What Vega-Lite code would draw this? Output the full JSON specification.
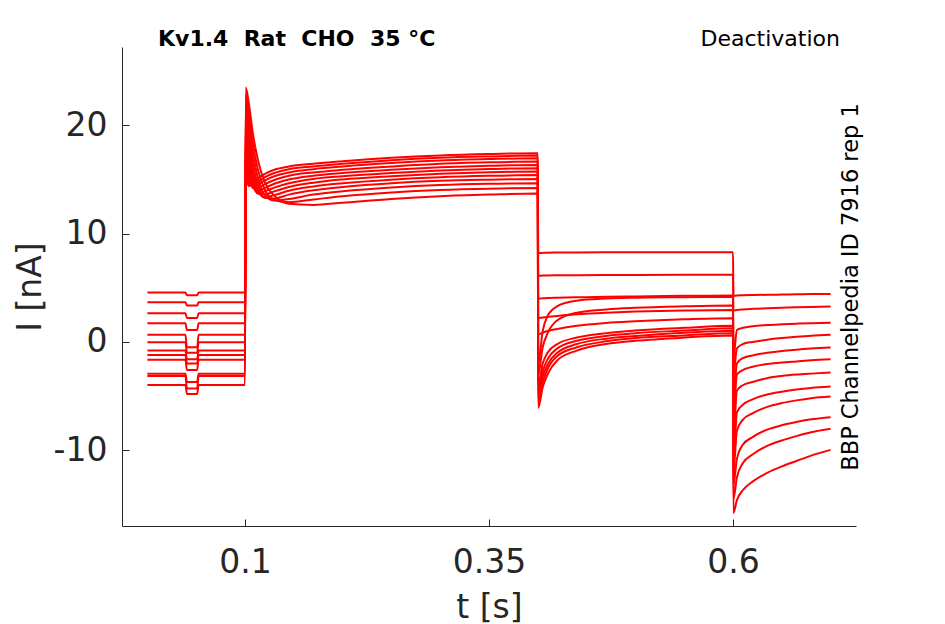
{
  "$schema": "https://vega.github.io/schema/vega-lite/v6.json",
  "width": 734,
  "height": 479,
  "autosize": {"type": "none"},
  "padding": {"left": 122, "top": 47, "right": 89, "bottom": 98},
  "background": "white",
  "config": {"view": {"stroke": null}, "font": "DejaVu Sans"},
  "title": {
    "text": "Kv1.4\u00a0\u00a0Rat\u00a0\u00a0CHO\u00a0\u00a035 °C",
    "anchor": "start", "frame": "group", "dx": 36, "offset": -40,
    "baseline": "alphabetic", "fontSize": 22, "fontWeight": "bold", "color": "black"
  },
  "data": {"values": [
    {"k":1,"t":0,"i":4.55},{"k":1,"t":0.039,"i":4.55},{"k":1,"t":0.0405,"i":4.3},{"k":1,"t":0.051,"i":4.3},{"k":1,"t":0.0525,"i":4.55},{"k":1,"t":0.1,"i":4.55},
    {"k":1,"t":0.1008,"i":15.0},{"k":1,"t":0.104,"i":14.4},{"k":1,"t":0.108,"i":14.7},{"k":1,"t":0.113,"i":15.1},{"k":1,"t":0.12,"i":15.5},{"k":1,"t":0.13,"i":15.9},{"k":1,"t":0.145,"i":16.2},{"k":1,"t":0.17,"i":16.45},{"k":1,"t":0.2,"i":16.68},{"k":1,"t":0.25,"i":17.0},{"k":1,"t":0.3,"i":17.22},{"k":1,"t":0.35,"i":17.35},{"k":1,"t":0.4,"i":17.42},
    {"k":1,"t":0.4004,"i":8.2},{"k":1,"t":0.405,"i":8.22},{"k":1,"t":0.41,"i":8.24},{"k":1,"t":0.42,"i":8.25},{"k":1,"t":0.44,"i":8.26},{"k":1,"t":0.47,"i":8.27},{"k":1,"t":0.5,"i":8.27},{"k":1,"t":0.55,"i":8.28},{"k":1,"t":0.6,"i":8.28},
    {"k":1,"t":0.6004,"i":4.25},{"k":1,"t":0.604,"i":4.28},{"k":1,"t":0.61,"i":4.3},{"k":1,"t":0.62,"i":4.32},{"k":1,"t":0.635,"i":4.35},{"k":1,"t":0.65,"i":4.37},{"k":1,"t":0.665,"i":4.4},{"k":1,"t":0.68,"i":4.42},{"k":1,"t":0.7,"i":4.43},

    {"k":2,"t":0,"i":3.67},{"k":2,"t":0.039,"i":3.67},{"k":2,"t":0.0405,"i":3.35},{"k":2,"t":0.051,"i":3.35},{"k":2,"t":0.0525,"i":3.67},{"k":2,"t":0.1,"i":3.67},
    {"k":2,"t":0.1008,"i":15.8},{"k":2,"t":0.104,"i":14.6},{"k":2,"t":0.108,"i":14.5},{"k":2,"t":0.113,"i":14.8},{"k":2,"t":0.12,"i":15.2},{"k":2,"t":0.13,"i":15.6},{"k":2,"t":0.145,"i":15.95},{"k":2,"t":0.17,"i":16.2},{"k":2,"t":0.2,"i":16.45},{"k":2,"t":0.25,"i":16.78},{"k":2,"t":0.3,"i":17.0},{"k":2,"t":0.35,"i":17.12},{"k":2,"t":0.4,"i":17.2},
    {"k":2,"t":0.4004,"i":6.1},{"k":2,"t":0.405,"i":6.12},{"k":2,"t":0.41,"i":6.14},{"k":2,"t":0.42,"i":6.15},{"k":2,"t":0.44,"i":6.16},{"k":2,"t":0.47,"i":6.17},{"k":2,"t":0.5,"i":6.18},{"k":2,"t":0.55,"i":6.19},{"k":2,"t":0.6,"i":6.2},
    {"k":2,"t":0.6004,"i":2.9},{"k":2,"t":0.604,"i":2.95},{"k":2,"t":0.61,"i":3.0},{"k":2,"t":0.62,"i":3.05},{"k":2,"t":0.635,"i":3.1},{"k":2,"t":0.65,"i":3.15},{"k":2,"t":0.665,"i":3.2},{"k":2,"t":0.68,"i":3.23},{"k":2,"t":0.7,"i":3.26},

    {"k":3,"t":0,"i":2.65},{"k":3,"t":0.039,"i":2.65},{"k":3,"t":0.0405,"i":2.2},{"k":3,"t":0.051,"i":2.2},{"k":3,"t":0.0525,"i":2.65},{"k":3,"t":0.1,"i":2.65},
    {"k":3,"t":0.1008,"i":16.6},{"k":3,"t":0.104,"i":15.0},{"k":3,"t":0.108,"i":14.3},{"k":3,"t":0.113,"i":14.5},{"k":3,"t":0.12,"i":14.9},{"k":3,"t":0.13,"i":15.3},{"k":3,"t":0.145,"i":15.65},{"k":3,"t":0.17,"i":15.95},{"k":3,"t":0.2,"i":16.2},{"k":3,"t":0.25,"i":16.52},{"k":3,"t":0.3,"i":16.75},{"k":3,"t":0.35,"i":16.88},{"k":3,"t":0.4,"i":16.96},
    {"k":3,"t":0.4004,"i":4.0},{"k":3,"t":0.405,"i":4.02},{"k":3,"t":0.41,"i":4.05},{"k":3,"t":0.42,"i":4.08},{"k":3,"t":0.44,"i":4.12},{"k":3,"t":0.47,"i":4.16},{"k":3,"t":0.5,"i":4.2},{"k":3,"t":0.55,"i":4.25},{"k":3,"t":0.6,"i":4.28},
    {"k":3,"t":0.6004,"i":-1.5},{"k":3,"t":0.604,"i":1.1},{"k":3,"t":0.61,"i":1.3},{"k":3,"t":0.62,"i":1.45},{"k":3,"t":0.635,"i":1.55},{"k":3,"t":0.65,"i":1.62},{"k":3,"t":0.665,"i":1.68},{"k":3,"t":0.68,"i":1.73},{"k":3,"t":0.7,"i":1.78},

    {"k":4,"t":0,"i":1.73},{"k":4,"t":0.039,"i":1.73},{"k":4,"t":0.0405,"i":1.1},{"k":4,"t":0.051,"i":1.1},{"k":4,"t":0.0525,"i":1.73},{"k":4,"t":0.1,"i":1.73},
    {"k":4,"t":0.1008,"i":17.4},{"k":4,"t":0.104,"i":15.6},{"k":4,"t":0.108,"i":14.2},{"k":4,"t":0.113,"i":14.2},{"k":4,"t":0.12,"i":14.55},{"k":4,"t":0.13,"i":14.95},{"k":4,"t":0.145,"i":15.35},{"k":4,"t":0.17,"i":15.65},{"k":4,"t":0.2,"i":15.9},{"k":4,"t":0.25,"i":16.2},{"k":4,"t":0.3,"i":16.45},{"k":4,"t":0.35,"i":16.58},{"k":4,"t":0.4,"i":16.65},
    {"k":4,"t":0.4004,"i":-2.0},{"k":4,"t":0.405,"i":1.0},{"k":4,"t":0.41,"i":2.4},{"k":4,"t":0.42,"i":3.3},{"k":4,"t":0.44,"i":3.8},{"k":4,"t":0.47,"i":4.0},{"k":4,"t":0.5,"i":4.08},{"k":4,"t":0.55,"i":4.13},{"k":4,"t":0.6,"i":4.17},
    {"k":4,"t":0.6004,"i":-3.0},{"k":4,"t":0.604,"i":-0.6},{"k":4,"t":0.61,"i":-0.2},{"k":4,"t":0.62,"i":0.0},{"k":4,"t":0.635,"i":0.2},{"k":4,"t":0.65,"i":0.35},{"k":4,"t":0.665,"i":0.47},{"k":4,"t":0.68,"i":0.57},{"k":4,"t":0.7,"i":0.65},

    {"k":5,"t":0,"i":0.65},{"k":5,"t":0.039,"i":0.65},{"k":5,"t":0.0405,"i":-0.5},{"k":5,"t":0.051,"i":-0.5},{"k":5,"t":0.0525,"i":0.65},{"k":5,"t":0.1,"i":0.65},
    {"k":5,"t":0.1008,"i":18.2},{"k":5,"t":0.104,"i":16.2},{"k":5,"t":0.108,"i":14.3},{"k":5,"t":0.113,"i":13.95},{"k":5,"t":0.12,"i":14.2},{"k":5,"t":0.13,"i":14.6},{"k":5,"t":0.145,"i":15.0},{"k":5,"t":0.17,"i":15.35},{"k":5,"t":0.2,"i":15.6},{"k":5,"t":0.25,"i":15.9},{"k":5,"t":0.3,"i":16.12},{"k":5,"t":0.35,"i":16.26},{"k":5,"t":0.4,"i":16.34},
    {"k":5,"t":0.4004,"i":-3.0},{"k":5,"t":0.405,"i":-0.5},{"k":5,"t":0.41,"i":0.8},{"k":5,"t":0.42,"i":2.0},{"k":5,"t":0.44,"i":2.7},{"k":5,"t":0.47,"i":3.0},{"k":5,"t":0.5,"i":3.15},{"k":5,"t":0.55,"i":3.28},{"k":5,"t":0.6,"i":3.35},
    {"k":5,"t":0.6004,"i":-5.0},{"k":5,"t":0.604,"i":-2.0},{"k":5,"t":0.61,"i":-1.5},{"k":5,"t":0.62,"i":-1.25},{"k":5,"t":0.635,"i":-1.0},{"k":5,"t":0.65,"i":-0.85},{"k":5,"t":0.665,"i":-0.72},{"k":5,"t":0.68,"i":-0.62},{"k":5,"t":0.7,"i":-0.52},

    {"k":6,"t":0,"i":-0.03},{"k":6,"t":0.039,"i":-0.03},{"k":6,"t":0.0405,"i":-1.0},{"k":6,"t":0.051,"i":-1.0},{"k":6,"t":0.0525,"i":-0.03},{"k":6,"t":0.1,"i":-0.03},
    {"k":6,"t":0.1008,"i":19.0},{"k":6,"t":0.104,"i":16.9},{"k":6,"t":0.108,"i":14.6},{"k":6,"t":0.113,"i":13.75},{"k":6,"t":0.12,"i":13.9},{"k":6,"t":0.13,"i":14.25},{"k":6,"t":0.145,"i":14.65},{"k":6,"t":0.17,"i":15.05},{"k":6,"t":0.2,"i":15.3},{"k":6,"t":0.25,"i":15.6},{"k":6,"t":0.3,"i":15.82},{"k":6,"t":0.35,"i":15.96},{"k":6,"t":0.4,"i":16.04},
    {"k":6,"t":0.4004,"i":2.2},{"k":6,"t":0.405,"i":2.25},{"k":6,"t":0.41,"i":2.3},{"k":6,"t":0.42,"i":2.4},{"k":6,"t":0.44,"i":2.55},{"k":6,"t":0.47,"i":2.7},{"k":6,"t":0.5,"i":2.8},{"k":6,"t":0.55,"i":2.9},{"k":6,"t":0.6,"i":2.95},
    {"k":6,"t":0.6004,"i":-7.0},{"k":6,"t":0.604,"i":-3.0},{"k":6,"t":0.61,"i":-2.6},{"k":6,"t":0.62,"i":-2.3},{"k":6,"t":0.635,"i":-2.05},{"k":6,"t":0.65,"i":-1.9},{"k":6,"t":0.665,"i":-1.8},{"k":6,"t":0.68,"i":-1.7},{"k":6,"t":0.7,"i":-1.6},

    {"k":7,"t":0,"i":-0.8},{"k":7,"t":0.039,"i":-0.8},{"k":7,"t":0.0405,"i":-1.6},{"k":7,"t":0.051,"i":-1.6},{"k":7,"t":0.0525,"i":-0.8},{"k":7,"t":0.1,"i":-0.8},
    {"k":7,"t":0.1008,"i":19.8},{"k":7,"t":0.104,"i":17.7},{"k":7,"t":0.108,"i":15.1},{"k":7,"t":0.113,"i":13.7},{"k":7,"t":0.12,"i":13.6},{"k":7,"t":0.13,"i":13.9},{"k":7,"t":0.145,"i":14.3},{"k":7,"t":0.17,"i":14.7},{"k":7,"t":0.2,"i":15.0},{"k":7,"t":0.25,"i":15.3},{"k":7,"t":0.3,"i":15.52},{"k":7,"t":0.35,"i":15.66},{"k":7,"t":0.4,"i":15.73},
    {"k":7,"t":0.4004,"i":0.7},{"k":7,"t":0.405,"i":0.85},{"k":7,"t":0.41,"i":1.0},{"k":7,"t":0.42,"i":1.2},{"k":7,"t":0.44,"i":1.5},{"k":7,"t":0.47,"i":1.75},{"k":7,"t":0.5,"i":1.9},{"k":7,"t":0.55,"i":2.08},{"k":7,"t":0.6,"i":2.19},
    {"k":7,"t":0.6004,"i":-9.0},{"k":7,"t":0.604,"i":-4.5},{"k":7,"t":0.61,"i":-4.0},{"k":7,"t":0.62,"i":-3.7},{"k":7,"t":0.635,"i":-3.35},{"k":7,"t":0.65,"i":-3.15},{"k":7,"t":0.665,"i":-3.02},{"k":7,"t":0.68,"i":-2.93},{"k":7,"t":0.7,"i":-2.83},

    {"k":8,"t":0,"i":-1.2},{"k":8,"t":0.039,"i":-1.2},{"k":8,"t":0.0405,"i":-2.0},{"k":8,"t":0.051,"i":-2.0},{"k":8,"t":0.0525,"i":-1.2},{"k":8,"t":0.1,"i":-1.2},
    {"k":8,"t":0.1008,"i":20.5},{"k":8,"t":0.104,"i":18.5},{"k":8,"t":0.108,"i":15.8},{"k":8,"t":0.113,"i":14.0},{"k":8,"t":0.12,"i":13.35},{"k":8,"t":0.13,"i":13.55},{"k":8,"t":0.145,"i":13.95},{"k":8,"t":0.17,"i":14.35},{"k":8,"t":0.2,"i":14.65},{"k":8,"t":0.25,"i":14.98},{"k":8,"t":0.3,"i":15.2},{"k":8,"t":0.35,"i":15.33},{"k":8,"t":0.4,"i":15.4},
    {"k":8,"t":0.4004,"i":-4.0},{"k":8,"t":0.405,"i":-2.0},{"k":8,"t":0.41,"i":-1.0},{"k":8,"t":0.42,"i":-0.2},{"k":8,"t":0.44,"i":0.4},{"k":8,"t":0.47,"i":0.8},{"k":8,"t":0.5,"i":1.05},{"k":8,"t":0.55,"i":1.3},{"k":8,"t":0.6,"i":1.48},
    {"k":8,"t":0.6004,"i":-11.0},{"k":8,"t":0.604,"i":-6.5},{"k":8,"t":0.61,"i":-5.8},{"k":8,"t":0.62,"i":-5.3},{"k":8,"t":0.635,"i":-4.85},{"k":8,"t":0.65,"i":-4.6},{"k":8,"t":0.665,"i":-4.4},{"k":8,"t":0.68,"i":-4.25},{"k":8,"t":0.7,"i":-4.12},

    {"k":9,"t":0,"i":-1.66},{"k":9,"t":0.039,"i":-1.66},{"k":9,"t":0.0405,"i":-2.6},{"k":9,"t":0.051,"i":-2.6},{"k":9,"t":0.0525,"i":-1.66},{"k":9,"t":0.1,"i":-1.66},
    {"k":9,"t":0.1008,"i":21.2},{"k":9,"t":0.104,"i":19.3},{"k":9,"t":0.108,"i":16.6},{"k":9,"t":0.113,"i":14.5},{"k":9,"t":0.12,"i":13.3},{"k":9,"t":0.13,"i":13.25},{"k":9,"t":0.145,"i":13.6},{"k":9,"t":0.17,"i":14.0},{"k":9,"t":0.2,"i":14.3},{"k":9,"t":0.25,"i":14.65},{"k":9,"t":0.3,"i":14.87},{"k":9,"t":0.35,"i":14.98},{"k":9,"t":0.4,"i":15.05},
    {"k":9,"t":0.4004,"i":-4.5},{"k":9,"t":0.405,"i":-2.7},{"k":9,"t":0.41,"i":-1.6},{"k":9,"t":0.42,"i":-0.6},{"k":9,"t":0.44,"i":0.1},{"k":9,"t":0.47,"i":0.55},{"k":9,"t":0.5,"i":0.8},{"k":9,"t":0.55,"i":1.05},{"k":9,"t":0.6,"i":1.26},
    {"k":9,"t":0.6004,"i":-12.0},{"k":9,"t":0.604,"i":-8.2},{"k":9,"t":0.61,"i":-7.2},{"k":9,"t":0.62,"i":-6.6},{"k":9,"t":0.635,"i":-6.0},{"k":9,"t":0.65,"i":-5.65},{"k":9,"t":0.665,"i":-5.4},{"k":9,"t":0.68,"i":-5.2},{"k":9,"t":0.7,"i":-5.05},

    {"k":10,"t":0,"i":-2.95},{"k":10,"t":0.039,"i":-2.95},{"k":10,"t":0.0405,"i":-3.7},{"k":10,"t":0.051,"i":-3.7},{"k":10,"t":0.0525,"i":-2.95},{"k":10,"t":0.1,"i":-2.95},
    {"k":10,"t":0.1008,"i":22.0},{"k":10,"t":0.104,"i":20.2},{"k":10,"t":0.108,"i":17.5},{"k":10,"t":0.113,"i":15.2},{"k":10,"t":0.12,"i":13.6},{"k":10,"t":0.13,"i":13.05},{"k":10,"t":0.145,"i":13.2},{"k":10,"t":0.17,"i":13.6},{"k":10,"t":0.2,"i":13.9},{"k":10,"t":0.25,"i":14.25},{"k":10,"t":0.3,"i":14.48},{"k":10,"t":0.35,"i":14.6},{"k":10,"t":0.4,"i":14.65},
    {"k":10,"t":0.4004,"i":-5.0},{"k":10,"t":0.405,"i":-3.2},{"k":10,"t":0.41,"i":-2.1},{"k":10,"t":0.42,"i":-1.0},{"k":10,"t":0.44,"i":-0.2},{"k":10,"t":0.47,"i":0.3},{"k":10,"t":0.5,"i":0.55},{"k":10,"t":0.55,"i":0.85},{"k":10,"t":0.6,"i":1.04},
    {"k":10,"t":0.6004,"i":-13.2},{"k":10,"t":0.604,"i":-10.8},{"k":10,"t":0.61,"i":-9.5},{"k":10,"t":0.62,"i":-8.8},{"k":10,"t":0.635,"i":-8.1},{"k":10,"t":0.65,"i":-7.7},{"k":10,"t":0.665,"i":-7.4},{"k":10,"t":0.68,"i":-7.15},{"k":10,"t":0.7,"i":-6.95},

    {"k":11,"t":0,"i":-3.14},{"k":11,"t":0.039,"i":-3.14},{"k":11,"t":0.0405,"i":-4.3},{"k":11,"t":0.051,"i":-4.3},{"k":11,"t":0.0525,"i":-3.14},{"k":11,"t":0.1,"i":-3.14},
    {"k":11,"t":0.1008,"i":22.8},{"k":11,"t":0.104,"i":21.1},{"k":11,"t":0.108,"i":18.4},{"k":11,"t":0.113,"i":16.0},{"k":11,"t":0.12,"i":14.1},{"k":11,"t":0.13,"i":13.1},{"k":11,"t":0.145,"i":12.9},{"k":11,"t":0.17,"i":13.15},{"k":11,"t":0.2,"i":13.45},{"k":11,"t":0.25,"i":13.8},{"k":11,"t":0.3,"i":14.03},{"k":11,"t":0.35,"i":14.15},{"k":11,"t":0.4,"i":14.2},
    {"k":11,"t":0.4004,"i":-5.5},{"k":11,"t":0.405,"i":-3.7},{"k":11,"t":0.41,"i":-2.5},{"k":11,"t":0.42,"i":-1.3},{"k":11,"t":0.44,"i":-0.5},{"k":11,"t":0.47,"i":0.05},{"k":11,"t":0.5,"i":0.35},{"k":11,"t":0.55,"i":0.6},{"k":11,"t":0.6,"i":0.8},
    {"k":11,"t":0.6004,"i":-14.5},{"k":11,"t":0.604,"i":-12.5},{"k":11,"t":0.61,"i":-11.2},{"k":11,"t":0.62,"i":-10.4},{"k":11,"t":0.635,"i":-9.6},{"k":11,"t":0.65,"i":-9.1},{"k":11,"t":0.665,"i":-8.7},{"k":11,"t":0.68,"i":-8.35},{"k":11,"t":0.7,"i":-8.03},

    {"k":12,"t":0,"i":-3.97},{"k":12,"t":0.039,"i":-3.97},{"k":12,"t":0.0405,"i":-4.8},{"k":12,"t":0.051,"i":-4.8},{"k":12,"t":0.0525,"i":-3.97},{"k":12,"t":0.1,"i":-3.97},
    {"k":12,"t":0.1008,"i":23.5},{"k":12,"t":0.104,"i":22.0},{"k":12,"t":0.108,"i":19.3},{"k":12,"t":0.113,"i":16.9},{"k":12,"t":0.12,"i":14.8},{"k":12,"t":0.13,"i":13.5},{"k":12,"t":0.145,"i":12.75},{"k":12,"t":0.17,"i":12.65},{"k":12,"t":0.2,"i":12.85},{"k":12,"t":0.25,"i":13.2},{"k":12,"t":0.3,"i":13.45},{"k":12,"t":0.35,"i":13.6},{"k":12,"t":0.4,"i":13.7},
    {"k":12,"t":0.4004,"i":-6.1},{"k":12,"t":0.405,"i":-4.2},{"k":12,"t":0.41,"i":-3.0},{"k":12,"t":0.42,"i":-1.7},{"k":12,"t":0.44,"i":-0.8},{"k":12,"t":0.47,"i":-0.2},{"k":12,"t":0.5,"i":0.1},{"k":12,"t":0.55,"i":0.4},{"k":12,"t":0.6,"i":0.58},
    {"k":12,"t":0.6004,"i":-15.8},{"k":12,"t":0.604,"i":-14.6},{"k":12,"t":0.61,"i":-13.7},{"k":12,"t":0.62,"i":-12.9},{"k":12,"t":0.635,"i":-12.1},{"k":12,"t":0.65,"i":-11.5},{"k":12,"t":0.665,"i":-11.0},{"k":12,"t":0.68,"i":-10.5},{"k":12,"t":0.7,"i":-9.97}
  ]},
  "layer": [
    {
      "mark": {"type": "line", "color": "#ff0000", "strokeWidth": 2, "interpolate": "monotone"},
      "encoding": {
        "x": {
          "field": "t", "type": "quantitative",
          "scale": {"domain": [-0.026, 0.726], "nice": false, "zero": false},
          "axis": {
            "values": [0.1, 0.35, 0.6], "labelExpr": "'' + datum.value",
            "title": "t [s]", "titleFontSize": 33, "titleFontWeight": "normal",
            "titleX": 367, "titleY": 91, "titleBaseline": "alphabetic", "titleAlign": "center",
            "labelFontSize": 33, "labelPadding": 27, "tickSize": -7, "grid": false,
            "domainColor": "#262626", "tickColor": "#262626", "labelColor": "#262626", "titleColor": "#262626"
          }
        },
        "y": {
          "field": "i", "type": "quantitative",
          "scale": {"domain": [-17, 27.23], "nice": false, "zero": false},
          "axis": {
            "values": [-10, 0, 10, 20], "labelExpr": "'' + datum.value",
            "title": "I [nA]", "titleFontSize": 33, "titleFontWeight": "normal",
            "titleAngle": 270, "titleX": -82, "titleY": 239.5, "titleBaseline": "alphabetic", "titleAlign": "center",
            "labelFontSize": 33, "labelPadding": 22, "tickSize": -7, "grid": false,
            "domainColor": "#262626", "tickColor": "#262626", "labelColor": "#262626", "titleColor": "#262626"
          }
        },
        "detail": {"field": "k", "type": "nominal"}
      }
    },
    {
      "data": {"values": [{"label": "Deactivation"}]},
      "mark": {"type": "text", "align": "right", "baseline": "alphabetic", "fontSize": 22, "color": "black"},
      "encoding": {
        "text": {"field": "label"},
        "x": {"datum": 0.7096, "type": "quantitative"},
        "y": {
          "datum": 27.28, "type": "quantitative",
          "axis": {
            "orient": "right", "domain": false, "ticks": false, "labels": false, "grid": false,
            "title": "BBP Channelpedia ID 7916 rep 1", "titleFontSize": 22.5, "titleFontWeight": "normal",
            "titleAngle": 270, "titleX": 1, "titleY": 239.5, "titleBaseline": "alphabetic", "titleAlign": "center", "titleColor": "black"
          }
        }
      }
    }
  ],
  "resolve": {"axis": {"y": "independent"}}
}
